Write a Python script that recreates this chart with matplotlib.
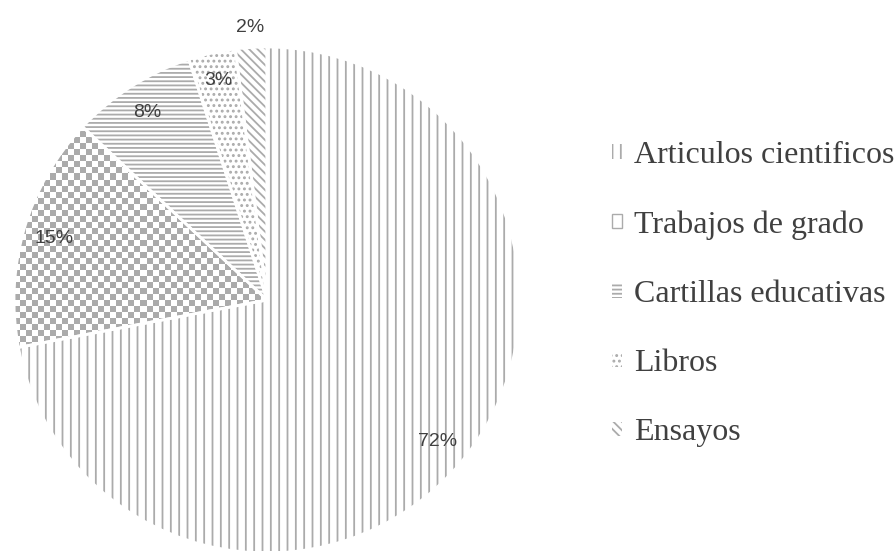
import numpy as np
import matplotlib
matplotlib.use("Agg")
import matplotlib.pyplot as plt
from matplotlib.patches import Patch
from matplotlib.colors import ListedColormap

# datos del grafico
categorias = ["Articulos cientificos", "Trabajos de grado", "Cartillas educativas",
              "Libros", "Ensayos"]
porcentajes = [72, 15, 8, 3, 2]
etiquetas = ["72%", "15%", "8%", "3%", "2%"]

gris = "#ababab"
texto = "#404040"
tramas = ["||", None, "----", "...", "\\\\\\\\"]

plt.rcParams["hatch.linewidth"] = 1.3

fig = plt.figure(figsize=(8.96, 5.51), dpi=100)
ax = fig.add_axes([14 / 896, -2 / 551, 506 / 896, 506 / 551])

wedges, _ = ax.pie(porcentajes, startangle=90, counterclock=False, radius=1,
                   wedgeprops=dict(facecolor="white", edgecolor=gris, linewidth=0))
for w, h in zip(wedges, tramas):
    if h is not None:
        w.set_hatch(h)
wedges[1].set_facecolor("none")

# cuadricula (tablero) para "Trabajos de grado"
n = 84
ii, jj = np.indices((n, n))
tablero = (ii + jj) % 2
img = ax.imshow(tablero, extent=[-1, 1, -1, 1], cmap=ListedColormap(["white", gris]),
                interpolation="nearest", zorder=0.5)
img.set_clip_path(wedges[1])

# bordes blancos entre porciones
ax.pie(porcentajes, startangle=90, counterclock=False, radius=1,
       wedgeprops=dict(facecolor="none", edgecolor="white", linewidth=2))

ax.set_xlim(-1, 1)
ax.set_ylim(-1, 1)
ax.set_aspect("equal")
ax.axis("off")

distancias = [0.875, 0.875, 0.88, 0.89, 1.08]
for w, lab, d in zip(wedges, etiquetas, distancias):
    ang = np.deg2rad((w.theta1 + w.theta2) / 2)
    ax.text(d * np.cos(ang), d * np.sin(ang), lab, ha="center", va="center",
            fontsize=14, color=texto, family="Liberation Sans", zorder=5)

manijas = []
for h in tramas:
    if h is None:
        manijas.append(Patch(facecolor="white", edgecolor=gris, linewidth=1))
    else:
        manijas.append(Patch(facecolor="white", edgecolor=gris, linewidth=0, hatch=h))

fig.legend(manijas, categorias, loc="center left", bbox_to_anchor=(612 / 896, 1 - 294 / 551),
           frameon=False, borderpad=0, borderaxespad=0, handlelength=0.32, handleheight=0.32,
           handletextpad=0.37, labelspacing=1.26,
           prop=dict(family="Liberation Serif", size=23), labelcolor=texto)

fig.savefig("out.png", dpi=100)
